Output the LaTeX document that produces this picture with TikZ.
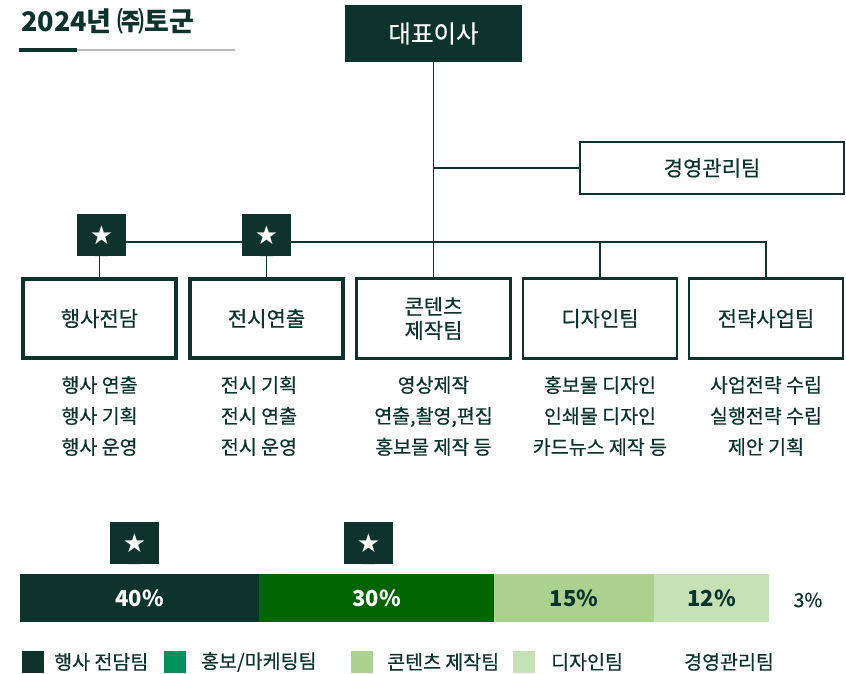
\documentclass[tikz,border=0pt]{standalone}
\usepackage{fontspec}
\setmainfont{Noto Sans CJK KR}
\newfontfamily\medfont{Noto Sans CJK KR}[FakeBold=0.5]
\newfontfamily\symf{DejaVu Sans}
\definecolor{dk}{HTML}{0D332C}
\definecolor{gA}{HTML}{006400}
\definecolor{gB}{HTML}{00935A}
\definecolor{gC}{HTML}{ABD18F}
\definecolor{gD}{HTML}{C5E1B5}
\definecolor{lgray}{HTML}{BDBDBD}
\tikzset{
  fs/.style={font=\medfont\fontsize{#1}{#1}\selectfont},
  team/.style={draw=dk, line width=2.5pt, minimum width=154pt, minimum height=80pt, inner sep=0pt, text=dk, fs=21, align=center},
  hteam/.style={team, line width=3.5pt, minimum width=153pt, minimum height=79pt},
  conn/.style={draw=dk, line width=1.6pt},
  marker/.style={fill=dk, minimum width=49pt, minimum height=42pt, inner sep=0pt, text=white, font=\symf\fontsize{26}{26}\selectfont},
  duty/.style={text=dk, align=center, font=\medfont\fontsize{19.5}{31}\selectfont},
  seg/.style={minimum height=48pt, inner sep=0pt, font=\bfseries\fontsize{22}{22}\selectfont},
  lsq/.style={minimum width=22pt, minimum height=22pt, inner sep=0pt},
  ltxt/.style={anchor=west, text=dk, inner sep=0pt, font=\medfont\fontsize{19.5}{19.5}\selectfont}
}
\begin{document}
\begin{tikzpicture}[x=1pt,y=-1pt]
\useasboundingbox (0,0) rectangle (846,674);
% title
\node[anchor=west, text=dk, inner sep=0pt, font=\bfseries\fontsize{27}{27}\selectfont] (title) at (21,21) {2024년 ㈜토군};
\coordinate (u1) at (19,50); \coordinate (u2) at (77,50); \coordinate (u3) at (235,50);
\draw[lgray, line width=1.5pt] (u2) -- (u3);
\draw[dk, line width=3.5pt] (u1) -- (u2);
% CEO
\node[fill=dk, minimum width=177pt, minimum height=57pt, inner sep=0pt, text=white, fs=24.5] (ceo) at (433.5,33.5) {대표이사};
\node[team, minimum width=264pt, minimum height=52pt] (mgmt) at (712,168) {경영관리팀};
% teams
\node[hteam] (t1) at (99.5,318.5) {행사전담};
\node[hteam] (t2) at (266.5,318.5) {전시연출};
\node[team] (t3) at (433.5,318.5) {콘텐츠\\[3pt]제작팀};
\node[team] (t4) at (600,318.5) {디자인팀};
\node[team] (t5) at (766,318.5) {전략사업팀};
% bus
\coordinate (b1) at (t1.north |- 0,242);
\coordinate (b5) at (t5.north |- 0,242);
\coordinate (bc) at (ceo.south |- mgmt.west);
\draw[conn] (ceo.south) -- (t3.north);
\draw[conn] (bc) -- (mgmt.west);
\draw[conn] (t1.north) -- (b1) -- (b5) -- (t5.north);
\draw[conn] (t4.north) -- (t4.north |- b1);
\draw[conn] (t2.north) -- (t2.north |- b1);
% markers
\foreach \n/\x/\y in {m1/101.5/235, m2/266.5/235, m3/134.5/543, m4/368.5/543}{
  \node[marker] (\n) at (\x,\y) {★};
  \fill[dk] ([xshift=-6.5pt]\n.south) -- ([xshift=6.5pt]\n.south) -- ([yshift=7pt]\n.south) -- cycle;
}
% duties
\node[duty] (d1) at (99.5,416) {행사 연출\\행사 기획\\행사 운영};
\node[duty] (d2) at (259,416) {전시 기획\\전시 연출\\전시 운영};
\node[duty] (d3) at (433.5,416) {영상제작\\연출,촬영,편집\\홍보물 제작 등};
\node[duty] (d4) at (600,416) {홍보물 디자인\\인쇄물 디자인\\카드뉴스 제작 등};
\node[duty] (d5) at (766,416) {사업전략 수립\\실행전략 수립\\제안 기획};
% bar
\node[seg, fill=dk, text=white, minimum width=239pt] (s1) at (139.5,598) {40\%};
\node[seg, fill=gA, text=white, minimum width=235pt] (s2) at (376.5,598) {30\%};
\node[seg, fill=gC, text=dk, minimum width=160pt] (s3) at (574,598) {15\%};
\node[seg, fill=gD, text=dk, minimum width=115pt] (s4) at (711.5,598) {12\%};
\node[seg, text=dk, font=\medfont\fontsize{19.5}{19.5}\selectfont] (s5) at (808,600) {3\%};
% legend
\node[lsq, fill=dk] (q1) at (33,662) {};
\node[ltxt] (l1) at (54,662) {행사 전담팀};
\node[lsq, fill=gB] (q2) at (175,662) {};
\node[ltxt] (l2) at (201,662) {홍보/마케팅팀};
\node[lsq, fill=gC] (q3) at (362,662) {};
\node[ltxt] (l3) at (387,662) {콘텐츠 제작팀};
\node[lsq, fill=gD] (q4) at (524,662) {};
\node[ltxt] (l4) at (551,662) {디자인팀};
\node[ltxt] (l5) at (684,662) {경영관리팀};
\end{tikzpicture}
\end{document}
